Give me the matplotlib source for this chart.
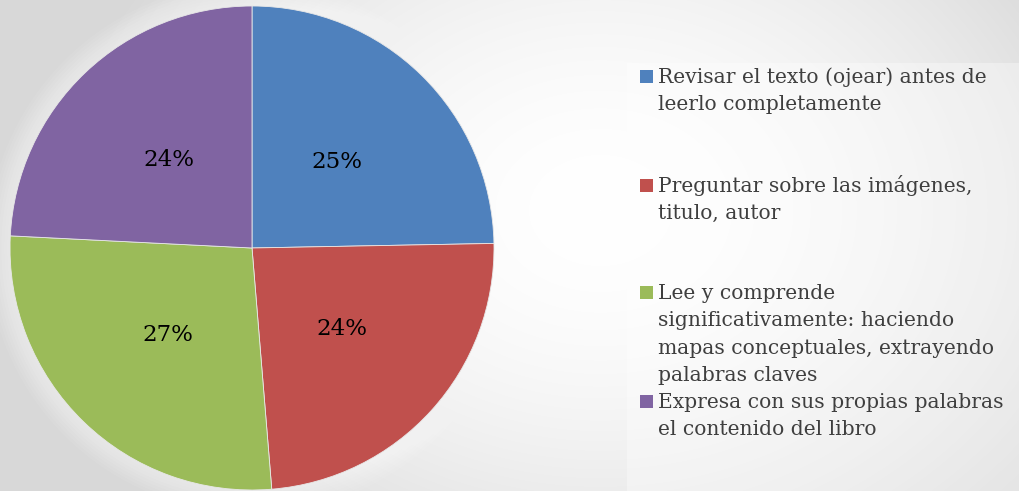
import matplotlib.pyplot as plt
import numpy as np
from matplotlib.patches import Rectangle, Circle

# data
labels = ['Revisar el texto (ojear) antes de\nleerlo completamente',
          'Preguntar sobre las imágenes,\ntitulo, autor',
          'Lee y comprende\nsignificativamente: haciendo\nmapas conceptuales, extrayendo\npalabras claves',
          'Expresa con sus propias palabras\nel contenido del libro']
values = [24.7, 24.0, 27.1, 24.2]
colors = ['#4F81BD', '#C0504D', '#9BBB59', '#8064A2']

W, H = 1019, 491
fig = plt.figure(figsize=(W / 100, H / 100), dpi=100)

# background: soft radial gradient, white in the middle, grey at the edges
bg = fig.add_axes([0, 0, 1, 1])
yy, xx = np.mgrid[0:H, 0:W]
r = np.sqrt(((xx - 600) / 540.0) ** 2 + ((yy - 210) / 420.0) ** 2)
grey = 1 - 0.15 * np.clip(r, 0, 1) ** 1.8
bg.imshow(np.dstack([grey] * 3), extent=[0, W, H, 0], aspect='auto')
bg.set_xlim(0, W)
bg.set_ylim(H, 0)
bg.axis('off')

# legend panel (very faint)
bg.add_patch(Rectangle((627, 63), W - 627, H - 63, facecolor='white',
                       alpha=0.35, edgecolor='none'))

# pie
cx, cy, rad = 252, 248, 242
ax = fig.add_axes([(cx - rad) / W, (H - cy - rad) / H, 2 * rad / W, 2 * rad / H])
for k in range(8):
    ax.add_patch(Circle((0, 0), 1.0 + 0.012 * (k + 1), facecolor='white',
                        alpha=0.07, edgecolor='none', zorder=0, clip_on=False))
wedges, texts, autotexts = ax.pie(values, colors=colors, startangle=90,
                                  counterclock=False, autopct='%.0f%%',
                                  pctdistance=0.5, radius=1,
                                  wedgeprops=dict(edgecolor='#e8e8e8', linewidth=0.6))
for t in autotexts:
    t.set_fontfamily('DejaVu Serif')
    t.set_fontsize(16.5)
    t.set_color('black')
ax.set_xlim(-1, 1)
ax.set_ylim(-1, 1)
ax.axis('off')

# legend, drawn by hand
first_baseline = [83, 192, 299, 408]
step = 27.3
for lab, col, yb in zip(labels, colors, first_baseline):
    bg.add_patch(Rectangle((640, yb - 13), 13, 13, facecolor=col, edgecolor='none'))
    for i, line in enumerate(lab.split('\n')):
        bg.text(658, yb + i * step, line, fontsize=14.6, fontfamily='DejaVu Serif',
                color='#3f3f3f', va='baseline', ha='left')

fig.savefig('out.png', dpi=100)
